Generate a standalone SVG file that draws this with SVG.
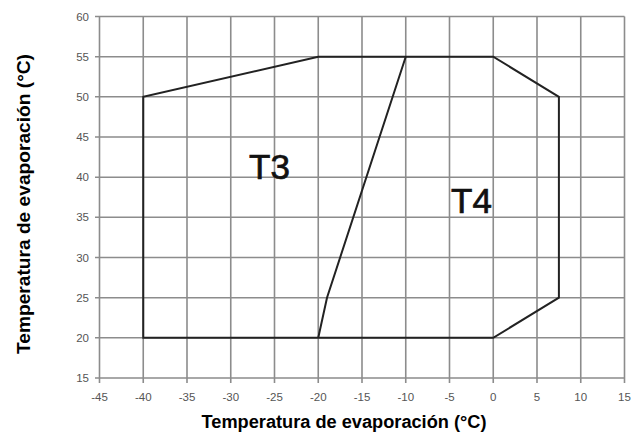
<svg xmlns="http://www.w3.org/2000/svg" width="642" height="432" viewBox="0 0 642 432">
<style>
.grid{stroke:#8c8c8c;stroke-width:1.6;fill:none}
.tick{font-family:"Liberation Sans",Arial,sans-serif;font-size:11.5px;fill:#555}
.title{font-family:"Liberation Sans",Arial,sans-serif;font-size:18px;font-weight:bold;fill:#000}
.zone{font-family:"Liberation Sans",Arial,sans-serif;font-size:35px;fill:#111;stroke:#111;stroke-width:0.7}
.bound{stroke:#222;stroke-width:2;fill:none;stroke-linejoin:miter}
</style>
<rect width="642" height="432" fill="#fff"/>
<g id="grid" class="grid">
<path d="M99.5,16.5V383M143.25,16.5V383M187,16.5V383M230.75,16.5V383M274.5,16.5V383M318.25,16.5V383M362,16.5V383M405.75,16.5V383M449.5,16.5V383M493.25,16.5V383M537,16.5V383M580.75,16.5V383M624.5,16.5V383"/>
<path d="M95,16.5H624.5M95,56.7H624.5M95,96.8H624.5M95,137H624.5M95,177.2H624.5M95,217.3H624.5M95,257.5H624.5M95,297.7H624.5M95,337.8H624.5M95,378H624.5"/>
</g>
<g id="y-ticks" class="tick" text-anchor="end">
<text x="89" y="20.5">60</text>
<text x="89" y="60.7">55</text>
<text x="89" y="100.8">50</text>
<text x="89" y="141">45</text>
<text x="89" y="181.2">40</text>
<text x="89" y="221.3">35</text>
<text x="89" y="261.5">30</text>
<text x="89" y="301.7">25</text>
<text x="89" y="341.8">20</text>
<text x="89" y="382">15</text>
</g>
<g id="x-ticks" class="tick" text-anchor="middle">
<text x="99.5" y="401">-45</text>
<text x="143.25" y="401">-40</text>
<text x="187" y="401">-35</text>
<text x="230.75" y="401">-30</text>
<text x="274.5" y="401">-25</text>
<text x="318.25" y="401">-20</text>
<text x="362" y="401">-15</text>
<text x="405.75" y="401">-10</text>
<text x="449.5" y="401">-5</text>
<text x="493.25" y="401">0</text>
<text x="537" y="401">5</text>
<text x="580.75" y="401">10</text>
<text x="624.5" y="401">15</text>
</g>
<g id="connectors">
<polygon id="envelope" class="bound" points="143.25,337.8 143.25,96.8 318.25,56.7 493.25,56.7 558.9,96.8 558.9,297.7 493.25,337.8"/>
<polyline id="divider" class="bound" points="318.25,337.8 327,297.7 405.75,56.7"/>
</g>
<g id="T3"><text class="zone" x="249" y="178.5">T3</text></g>
<g id="T4"><text class="zone" x="451" y="212.5">T4</text></g>
<g id="x-title"><text class="title" x="344" y="427.5" text-anchor="middle" textLength="285" lengthAdjust="spacingAndGlyphs">Temperatura de evaporación (°C)</text></g>
<g id="y-title"><text class="title" transform="translate(30,204) rotate(-90)" text-anchor="middle" textLength="300" lengthAdjust="spacingAndGlyphs">Temperatura de evaporación (°C)</text></g>
</svg>
